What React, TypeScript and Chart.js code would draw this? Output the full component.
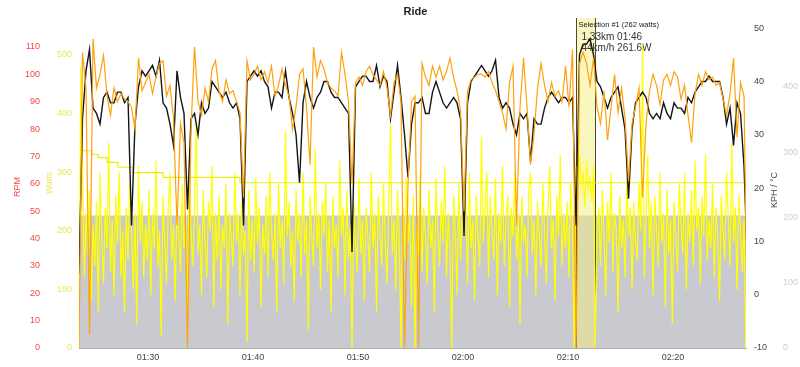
import React, { useEffect, useRef } from "react";
import { Chart, registerables } from "chart.js";
Chart.register(...registerables);

// ---- axis data ----
const xMin = 83.43; // 01:23:26 (clock minutes)
const xMax = 146.95;
const xTickValues = [90, 100, 110, 120, 130, 140];
const xTickLabels = ["01:30", "01:40", "01:50", "02:00", "02:10", "02:20"];
const rpmTicks = [0, 10, 20, 30, 40, 50, 60, 70, 80, 90, 100, 110];
const wattTicks = [0, 100, 200, 300, 400, 500];
const kphTicks = [-10, 0, 10, 20, 30, 40, 50];
const altTicks = [0, 100, 200, 300, 400];

// ---- series data ----
const speedStart = 83.43;
const speedStepMin = 1 / 3; // 20 s samples
const speedKph = [
  4, 33, 42, 46, 35, 34, 32, 37, 38, 36,
  36, 38, 38, 36, 37, 13, 32, 39, 42, 41,
  42, 43, 41, 44, 36, 35, 32, 28, 42, 37,
  34, 16, 33, 34, 30, 36, 34, 35, 40, 39,
  38, 37, 38, 36, 35, 36, 33, 13, 40, 41,
  42, 41, 42, 40, 39, 35, 38, 38, 37, 42,
  37, 34, 30, 21, 36, 40, 37, 35, 37, 38,
  40, 40, 38, 37, 37, 36, 35, 34, 8, 39,
  40, 41, 41, 40, 40, 43, 39, 41, 40, 33,
  38, 43, 37, 30, 22, 32, 36, 36, 37, 34,
  34, 38, 40, 38, 36, 35, 36, 37, 36, 33,
  11, 36, 40, 41, 42, 43, 42, 41, 42, 44,
  37, 35, 36, 35, 32, 30, 34, 33, 34, 25,
  33, 32, 32, 35, 37, 38, 37, 36, 37, 37,
  36, 37, 13, 45, 47, 47, 48, 45, 40, 39,
  37, 35, 37, 38, 39, 35, 31, 18, 31, 36,
  37, 38, 37, 34, 33, 34, 33, 36, 34, 33,
  36, 35, 35, 34, 37, 36, 38, 39, 40, 40,
  41, 40, 40, 40, 37, 32, 35, 28, 36, 34, 24, 5,
];

const cadenceStart = 83.43;
const cadenceStepMin = 1 / 3;
const cadenceRpm = [
  0, 108, 95, 5, 113, 95, 100, 107, 92, 85,
  95, 90, 93, 91, 90, 88, 80, 106, 94, 97,
  100, 93, 99, 104, 105, 92, 96, 84, 45, 82,
  75, 0, 80, 110, 90, 85, 95, 90, 102, 105,
  94, 90, 98, 93, 94, 90, 86, 55, 105, 98,
  100, 103, 98, 101, 97, 103, 92, 96, 102, 96,
  92, 80, 88, 100, 102, 88, 67, 110, 99, 105,
  102, 97, 95, 94, 92, 108, 100, 90, 60, 97,
  99, 96, 101, 103, 100, 98, 96, 101, 95, 85,
  97, 100, 90, 0, 60, 90, 92, 0, 104, 99,
  96, 103, 99, 103, 98, 101, 106, 99, 94, 87,
  50, 94, 98, 99, 100, 100, 99, 101, 97, 94,
  90, 86, 80, 97, 103, 45, 88, 106, 88, 67,
  78, 95, 104, 96, 90, 97, 92, 94, 90, 103,
  88, 109, 0, 104, 108, 104, 96, 106, 88, 82,
  94, 76, 88, 100, 86, 95, 84, 61, 82, 88,
  95, 55, 82, 94, 100, 96, 89, 98, 100, 96,
  101, 99, 91, 96, 85, 75, 93, 100, 96, 101,
  98, 99, 96, 97, 91, 85, 93, 106, 77, 97, 92, 0,
];

const powerStart = 83.43;
const powerStepMin = 1 / 6; // 10 s samples
const powerW = [
  0, 480, 300, 120, 230, 160, 270, 80, 210, 140, 250, 60, 300, 190, 110, 240, 170, 350, 130, 220,
  90, 260, 180, 300, 120, 200, 60, 240, 150, 280, 210, 100, 230, 40, 310, 180, 250, 120, 210, 150,
  270, 90, 230, 170, 320, 140, 200, 20, 260, 180, 110, 240, 300, 150, 210, 80, 250, 190, 130, 280,
  170, 230, 60, 290, 200, 140, 240, 390, 160, 210, 90, 270, 180, 120, 250, 200, 310, 70, 230, 150,
  260, 100, 210, 170, 280, 40, 230, 190, 140, 300, 180, 230, 90, 250, 160, 200, 10, 270, 150, 220,
  130, 290, 180, 240, 70, 210, 160, 260, 120, 300, 200, 150, 230, 60, 280, 170, 220, 110, 370, 190,
  250, 140, 200, 80, 270, 180, 230, 120, 300, 160, 220, 30, 260, 190, 140, 340, 170, 230, 100, 250,
  190, 280, 130, 220, 60, 260, 170, 210, 120, 320, 190, 240, 90, 270, 150, 210, 0, 250, 180, 130,
  290, 160, 220, 80, 240, 190, 130, 300, 170, 230, 60, 260, 200, 140, 280, 180, 110, 250, 380, 160,
  220, 100, 270, 190, 0, 240, 150, 290, 180, 230, 70, 260, 0, 210, 160, 300, 130, 240, 190, 110,
  270, 170, 220, 60, 290, 200, 140, 250, 180, 310, 120, 230, 170, 0, 260, 200, 90, 280, 150, 230,
  190, 250, 110, 300, 170, 220, 80, 260, 190, 140, 360, 180, 240, 300, 120, 260, 200, 150, 290, 90,
  230, 180, 310, 140, 220, 260, 70, 240, 190, 300, 150, 230, 40, 260, 180, 210, 120, 270, 300, 160,
  220, 90, 250, 190, 140, 280, 200, 110, 240, 310, 170, 220, 80, 260, 190, 330, 140, 230, 170, 250,
  120, 280, 200, 0, 310, 250, 330, 280, 300, 240, 320, 270, 290, 250, 310, 0, 200, 240, 140, 270,
  190, 90, 250, 180, 300, 130, 230, 200, 60, 260, 170, 220, 120, 290, 190, 240, 100, 250, 180, 150,
  280, 200, 520, 120, 230, 330, 170, 250, 90, 260, 200, 140, 300, 180, 230, 70, 270, 160, 220, 40,
  250, 190, 130, 280, 210, 160, 300, 100, 230, 180, 270, 140, 320, 200, 240, 110, 260, 190, 330, 150,
  220, 170, 280, 120, 240, 190, 80, 260, 200, 150, 300, 220, 140, 350, 180, 240, 100, 260, 200, 130,
  220, 0,
];

const tempTime = [83.81, 84.67, 85.24, 86.1, 87.14, 88.57, 91.43, 98.76, 146.95];
const tempC = [27.0, 26.3, 25.7, 24.8, 23.9, 22.9, 22.0, 21.0, 21.0];

const altTime = [83.43, 90, 100, 110, 120, 130, 140, 146.95];
const altM = [203, 203, 203, 203, 203, 203, 203, 203];

const selStart = 130.76;
const selEnd = 132.57;
const selTitle = "Selection #1 (262 watts)";
const selLine1 = "1.33km 01:46";
const selLine2 = "44km/h 261.6W";

const FONT = "Liberation Sans";

function series(start: number, step: number, vals: number[]) {
  return vals.map((v, i) => ({ x: start + i * step, y: v }));
}
function pairs(ts: number[], vals: number[]) {
  return vals.map((v, i) => ({ x: ts[i], y: v }));
}
function fixTicks(vals: number[]) {
  return (s: any) => {
    s.ticks = vals.map((v) => ({ value: v }));
  };
}

const ALT_INDEX = 4;

const overlayPlugin = {
  id: "overlay",
  afterDatasetDraw(chart: any, args: any) {
    if (args.index !== ALT_INDEX) return;
    const { ctx, chartArea } = chart;
    const x = chart.scales.x;
    const x0 = Math.round(x.getPixelForValue(selStart)) + 0.5;
    const x1 = Math.round(x.getPixelForValue(selEnd)) + 0.5;
    ctx.save();
    ctx.fillStyle = "rgba(245,238,130,0.5)";
    ctx.fillRect(x0, chartArea.top, x1 - x0, chartArea.bottom - chartArea.top);
    ctx.strokeStyle = "#4a4a30";
    ctx.lineWidth = 1;
    ctx.beginPath();
    ctx.moveTo(x0, chartArea.top);
    ctx.lineTo(x0, chartArea.bottom);
    ctx.moveTo(x1, chartArea.top);
    ctx.lineTo(x1, chartArea.bottom);
    ctx.stroke();
    ctx.fillStyle = "#1a1a1a";
    ctx.textBaseline = "middle";
    ctx.textAlign = "left";
    ctx.font = `7.5px "${FONT}"`;
    ctx.fillText(selTitle, x0 + 2, chartArea.top + 7);
    ctx.fillStyle = "#333";
    ctx.font = `10px "${FONT}"`;
    ctx.fillText(selLine1, x0 + 5, chartArea.top + 19);
    ctx.fillText(selLine2, x0 + 5, chartArea.top + 30);
    ctx.restore();
  },
  afterDraw(chart: any) {
    const { ctx, chartArea } = chart;
    ctx.save();
    ctx.textAlign = "center";
    ctx.textBaseline = "middle";
    ctx.font = `bold 11px "${FONT}"`;
    ctx.fillStyle = "#222";
    ctx.fillText("Ride", (chartArea.left + chartArea.right) / 2 + 3, 12);
    const vt = (text: string, xx: number, yy: number, color: string) => {
      ctx.save();
      ctx.translate(xx, yy);
      ctx.rotate(-Math.PI / 2);
      ctx.fillStyle = color;
      ctx.font = `9px "${FONT}"`;
      ctx.fillText(text, 0, 0);
      ctx.restore();
    };
    vt("RPM", 18, 187, "#f04848");
    vt("Watts", 50, 183, "#e8e850");
    vt("KPH / °C", 775, 190, "#444");
    ctx.restore();
  },
};

export default function App() {
  const ref = useRef<HTMLCanvasElement>(null);
  useEffect(() => {
    document.body.style.margin = "0";
    const canvas = ref.current!;
    const tickFont = { family: FONT, size: 9 };
    const chart = new Chart(canvas, {
      type: "line",
      data: {
        datasets: [
          {
            label: "Cadence",
            data: series(cadenceStart, cadenceStepMin, cadenceRpm),
            yAxisID: "rpm",
            borderColor: "#ffa20a",
            borderWidth: 1.2,
            pointRadius: 0,
            order: 0,
          },
          {
            label: "Speed",
            data: series(speedStart, speedStepMin, speedKph),
            yAxisID: "kph",
            borderColor: "#151515",
            borderWidth: 1.4,
            pointRadius: 0,
            order: 1,
          },
          {
            label: "Temperature",
            data: pairs(tempTime, tempC),
            yAxisID: "kph",
            borderColor: "#ecec10",
            borderWidth: 1.2,
            pointRadius: 0,
            stepped: true,
            order: 2,
          },
          {
            label: "Power",
            data: series(powerStart, powerStepMin, powerW),
            yAxisID: "watts",
            borderColor: "#ffff00",
            borderWidth: 1.2,
            pointRadius: 0,
            order: 3,
          },
          {
            label: "Altitude",
            data: pairs(altTime, altM),
            yAxisID: "alt",
            borderColor: "rgba(0,0,0,0)",
            borderWidth: 0,
            backgroundColor: "#c9c9d0",
            fill: "origin",
            pointRadius: 0,
            order: 4,
          },
        ] as any,
      },
      options: {
        responsive: false,
        animation: false,
        devicePixelRatio: 1,
        layout: { padding: { top: 18, left: 0, right: 0, bottom: 0 } },
        plugins: { legend: { display: false }, tooltip: { enabled: false }, title: { display: false } },
        scales: {
          x: {
            type: "linear",
            position: "bottom",
            min: xMin,
            max: xMax,
            afterBuildTicks: fixTicks(xTickValues),
            afterFit: (s: any) => {
              s.height = 19;
            },
            grid: { display: false, drawTicks: false },
            border: { display: true, color: "#b0b0b0" },
            ticks: {
              font: tickFont,
              color: "#444",
              padding: 4,
              maxRotation: 0,
              autoSkip: false,
              callback: (_v: any, i: number) => xTickLabels[i],
            },
          },
          rpm: {
            type: "linear",
            position: "left",
            weight: 2,
            min: 0,
            max: 120.6,
            afterBuildTicks: fixTicks(rpmTicks),
            afterFit: (s: any) => {
              s.width = 45;
            },
            grid: { display: false, drawTicks: false },
            border: { display: false },
            ticks: { font: tickFont, color: "#f04848", padding: 5 },
          },
          watts: {
            type: "linear",
            position: "left",
            weight: 1,
            min: 0,
            max: 563,
            afterBuildTicks: fixTicks(wattTicks),
            afterFit: (s: any) => {
              s.width = 34;
            },
            grid: { display: false, drawTicks: false },
            border: { display: false },
            ticks: { font: tickFont, color: "#e8e850", padding: 7 },
          },
          kph: {
            type: "linear",
            position: "right",
            weight: 1,
            min: -10,
            max: 51.9,
            afterBuildTicks: fixTicks(kphTicks),
            afterFit: (s: any) => {
              s.width = 33;
            },
            grid: { display: false, drawTicks: false },
            border: { display: false },
            ticks: { font: tickFont, color: "#444", padding: 8 },
          },
          alt: {
            type: "linear",
            position: "right",
            weight: 2,
            min: 0,
            max: 505.7,
            afterBuildTicks: fixTicks(altTicks),
            afterFit: (s: any) => {
              s.width = 21;
            },
            grid: { display: false, drawTicks: false },
            border: { display: false },
            ticks: { font: tickFont, color: "#cfcfcf", padding: 4 },
          },
        },
      } as any,
      plugins: [overlayPlugin],
    });
    return () => chart.destroy();
  }, []);
  return (
    <div style={{ width: 800, height: 367 }}>
      <canvas ref={ref} width={800} height={367} style={{ display: "block" }} />
    </div>
  );
}
